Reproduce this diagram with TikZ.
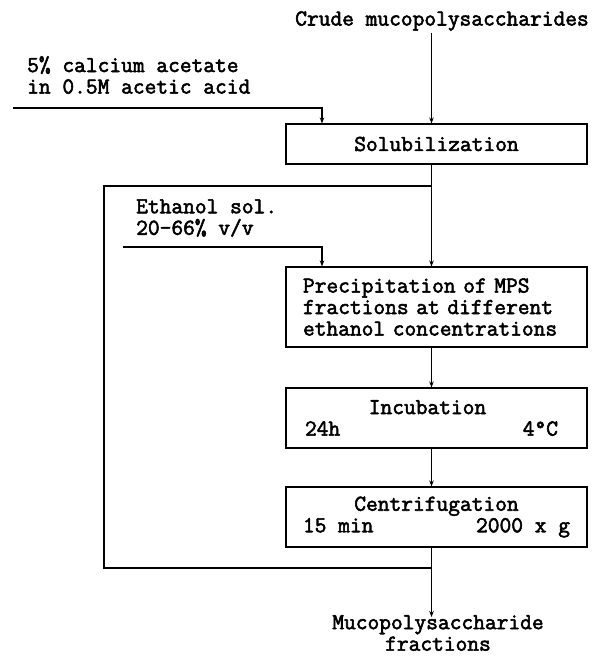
\documentclass[tikz,border=0pt]{standalone}
\usepackage{fontspec}
\newfontfamily\cour{Latin Modern Mono}[FakeBold=2.4]
\usetikzlibrary{arrows.meta}
\begin{document}
\begin{tikzpicture}[x=1pt,y=-1pt,
  every node/.style={font=\cour\fontsize{22.8}{21.5}\selectfont, inner sep=0pt},
  box/.style={draw, line width=1.1pt, minimum width=301pt},
  conn/.style={line width=1.1pt},
  arr/.style={conn, -{Stealth[length=6pt,width=4.5pt]}}]
\useasboundingbox (0,0) rectangle (593,656);
\coordinate (mx) at (431.5,0);
\coordinate (cx) at (322,0);
\node (crude) at (442,21) {Crude mucopolysaccharides};
\node[anchor=west, align=left] (calc) at (27,75) {5\% calcium acetate\\in 0.5M acetic acid};
\node[box, minimum height=40pt] (sol) at (436.5,144) {Solubilization};
\node[anchor=west, align=left] (eth) at (136,218) {Ethanol sol.\\20-66\% v/v};
\node[box, minimum height=80pt, text width=267pt, inner xsep=17pt, align=left] (prec) at (436.5,307)
  {Precipitation of MPS\\fractions at different\\ethanol concentrations};
\node[box, minimum height=60pt, align=center] (inc) at (436.5,418)
  {Incubation\hspace*{18pt}\\\makebox[253pt][l]{24h\hfill 4\textdegree C}\hspace*{10pt}};
\node[box, minimum height=60pt, align=center] (cen) at (436.5,517)
  {Centrifugation\\\makebox[267pt][l]{15 min\hfill 2000 x g}};
\node[anchor=south, align=center] (out) at (438,651) {Mucopolysaccharide\\fractions};
\coordinate (c1) at (13,108);
\coordinate (e1) at (123,247);
\coordinate (lt) at (104,186);
\coordinate (lb) at (104,568);
\draw[arr] (crude.south -| mx) ++(0,2) -- (sol.north -| mx);
\draw[arr] (c1) -| (sol.north -| cx);
\draw[arr] (sol.south -| mx) -- (prec.north -| mx);
\draw[conn] (lt -| mx) -- (lt) -- (lb) -- (lb -| mx);
\draw[arr] (e1) -| (prec.north -| cx);
\draw[arr] (prec.south -| mx) -- (inc.north -| mx);
\draw[arr] (inc.south -| mx) -- (cen.north -| mx);
\draw[arr] (cen.south -| mx) -- ([yshift=-2pt]out.north -| mx);
\end{tikzpicture}
\end{document}
